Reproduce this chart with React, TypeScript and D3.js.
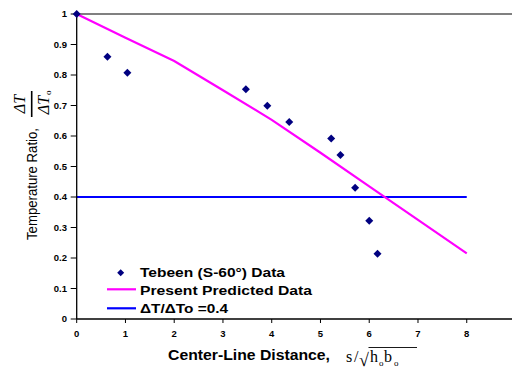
import React from "react";
import * as d3 from "d3";

const dataX = [0, 0.63, 1.04, 3.47, 3.91, 4.36, 5.22, 5.41, 5.71, 6.0, 6.17];
const dataY = [1.0, 0.86, 0.807, 0.753, 0.699, 0.646, 0.592, 0.538, 0.43, 0.322, 0.214];

const predX = [0, 1, 2, 3, 4, 5, 6, 7, 8];
const predY = [1.0, 0.922, 0.846, 0.75, 0.653, 0.545, 0.435, 0.325, 0.215];

const refX = [0, 8];
const refY = [0.4, 0.4];

const xTicks = [0, 1, 2, 3, 4, 5, 6, 7, 8];
const yTicks = [0, 0.1, 0.2, 0.3, 0.4, 0.5, 0.6, 0.7, 0.8, 0.9, 1];

const legendLabels = ["Tebeen (S-60°) Data", "Present Predicted Data", "ΔT/ΔTo =0.4"];

export default function App() {
  const W = 512, H = 369;
  const x = d3.scaleLinear().domain([0, 9]).range([76.7, 515.5]);
  const y = d3.scaleLinear().domain([0, 1]).range([319, 14]);
  const line = d3.line<number>().x((d, i) => x(predX[i])).y((d) => y(d));
  const refLine = d3.line<number>().x((d, i) => x(refX[i])).y((d) => y(d));
  const font = "Arial, 'Liberation Sans', sans-serif";
  const serif = "'Times New Roman', 'Liberation Serif', serif";
  const diamond = (cx: number, cy: number, r = 4) =>
    `M${cx},${cy - r}L${cx + r},${cy}L${cx},${cy + r}L${cx - r},${cy}Z`;

  return (
    <svg width={W} height={H} style={{ position: "absolute", left: 0, top: 0, background: "#fff" }} fontFamily={font}>
      <rect width={W} height={H} fill="#fff" />
      {/* top border */}
      <line x1={x(0)} x2={W} y1={y(1)} y2={y(1)} stroke="#808080" strokeWidth={2} />
      {/* reference line */}
      <path d={refLine(refY) || ""} stroke="#0000FF" strokeWidth={2.2} fill="none" />
      {/* predicted */}
      <path d={line(predY) || ""} stroke="#FF00FF" strokeWidth={2.2} fill="none" />
      {/* axes */}
      <line x1={x(0)} x2={x(0)} y1={y(1)} y2={y(0)} stroke="#000" strokeWidth={1.3} />
      <line x1={x(0)} x2={W} y1={y(0)} y2={y(0)} stroke="#000" strokeWidth={1.3} />
      {yTicks.map((t) => (
        <g key={"y" + t}>
          <line x1={x(0) - 6} x2={x(0)} y1={y(t)} y2={y(t)} stroke="#000" strokeWidth={1} />
          <text x={67} y={y(t) + 3.3} textAnchor="end" fontSize={9.5} fontWeight="bold">
            {t === 0 || t === 1 ? String(t) : t.toFixed(1)}
          </text>
        </g>
      ))}
      {xTicks.concat([9]).map((t) => (
        <g key={"x" + t}>
          <line x1={x(t)} x2={x(t)} y1={y(0)} y2={y(0) + 4} stroke="#000" strokeWidth={1} />
          {t <= 8 && (
            <text x={x(t)} y={336.5} textAnchor="middle" fontSize={9.5} fontWeight="bold">
              {t}
            </text>
          )}
        </g>
      ))}
      {/* data points */}
      {dataX.map((d, i) => (
        <path key={"p" + i} d={diamond(x(d), y(dataY[i]))} fill="#000080" />
      ))}
      {/* legend */}
      <path d={diamond(120.7, 272.7, 3.5)} fill="#000080" />
      <text x={140} y={277} fontSize={13.5} fontWeight="bold" textLength={145} lengthAdjust="spacingAndGlyphs">{legendLabels[0]}</text>
      <line x1={107} x2={136} y1={289.3} y2={289.3} stroke="#FF00FF" strokeWidth={2.2} />
      <text x={140} y={295} fontSize={13.5} fontWeight="bold" textLength={172} lengthAdjust="spacingAndGlyphs">{legendLabels[1]}</text>
      <line x1={107} x2={136} y1={308.3} y2={308.3} stroke="#0000FF" strokeWidth={2.2} />
      <text x={140} y={313} fontSize={13.5} fontWeight="bold" textLength={88} lengthAdjust="spacingAndGlyphs">{legendLabels[2]}</text>
      {/* x title */}
      <text x={168} y={360} fontSize={14.5} fontWeight="bold" textLength={162} lengthAdjust="spacingAndGlyphs">Center-Line Distance,</text>
      <g fontFamily={serif} fontSize={16}>
        <text x={346} y={362}>s</text>
        <text x={354} y={362}>/</text>
        <text x={359} y={366} fontSize={18}>√</text>
        <line x1={368.5} x2={417} y1={347.5} y2={347.5} stroke="#000" strokeWidth={0.9} />
        <text x={370} y={362}>h</text>
        <text x={379} y={366} fontSize={9}>o</text>
        <text x={384} y={362}>b</text>
        <text x={394} y={366} fontSize={9}>o</text>
      </g>
      {/* y title */}
      <text transform="translate(36.5,184) rotate(-90)" textAnchor="middle" fontSize={14} textLength={112} lengthAdjust="spacingAndGlyphs">
        Temperature Ratio,
      </text>
      <g transform="translate(31.7,104) rotate(-90)" fontFamily={serif} fontSize={16} fontStyle="italic">
        <line x1={-13} x2={13} y1={0} y2={0} stroke="#000" strokeWidth={1.6} />
        <text x={0} y={-6.5} textAnchor="middle">ΔT</text>
        <text x={-1} y={17.5} textAnchor="middle">ΔT</text>
        <text x={9} y={19} fontSize={9} fontStyle="normal">o</text>
      </g>
    </svg>
  );
}
